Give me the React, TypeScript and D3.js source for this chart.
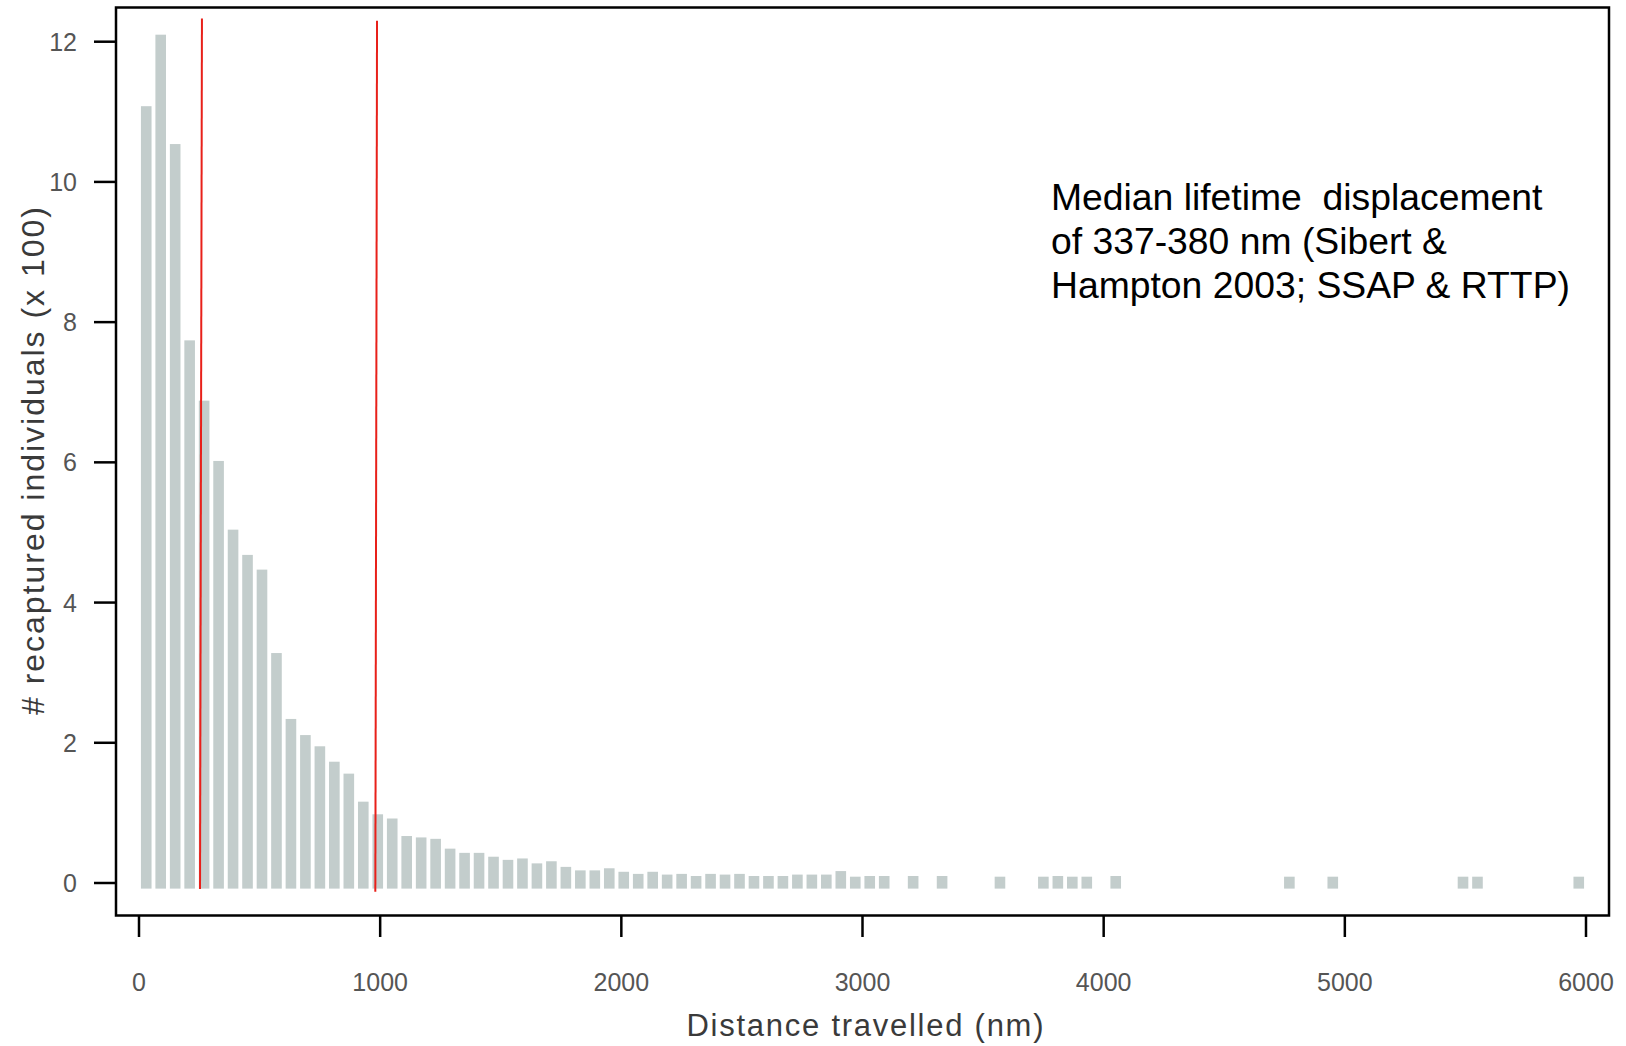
import React from 'react';
import * as d3 from 'd3';

// histogram of recapture distances, 60 nm bins (bin start in nm)
const binStart = [
  0, 60, 120, 180, 240, 300, 360, 420, 480, 540,
  600, 660, 720, 780, 840, 900, 960, 1020, 1080, 1140,
  1200, 1260, 1320, 1380, 1440, 1500, 1560, 1620, 1680, 1740,
  1800, 1860, 1920, 1980, 2040, 2100, 2160, 2220, 2280, 2340,
  2400, 2460, 2520, 2580, 2640, 2700, 2760, 2820, 2880, 2940,
  3000, 3060, 3180, 3300, 3540, 3720, 3780, 3840, 3900, 4020,
  4740, 4920, 5460, 5520, 5940,
];
// recaptured individuals (x 100)
const recaptured = [
  11.08, 12.1, 10.54, 7.74, 6.88, 6.02, 5.04, 4.68, 4.47, 3.28,
  2.34, 2.11, 1.95, 1.73, 1.56, 1.16, 0.98, 0.92, 0.67, 0.65,
  0.63, 0.49, 0.43, 0.43, 0.375, 0.33, 0.35, 0.28, 0.31, 0.23,
  0.18, 0.18, 0.21, 0.16, 0.13, 0.16, 0.12, 0.13, 0.1, 0.13,
  0.12, 0.13, 0.1, 0.1, 0.1, 0.12, 0.12, 0.12, 0.17, 0.09,
  0.1, 0.1, 0.1, 0.1, 0.09, 0.09, 0.1, 0.09, 0.09, 0.1,
  0.09, 0.09, 0.09, 0.09, 0.09,
];
const BIN = 60;

const xTicks = [0, 1000, 2000, 3000, 4000, 5000, 6000];
const yTicks = [0, 2, 4, 6, 8, 10, 12];

// hand-drawn red marker lines (nm at top / bottom, value at top / bottom)
const markerX = [[261, 253], [987, 980]];
const markerY = [[12.33, -0.086], [12.3, -0.124]];

const noteLines = [
  'Median lifetime  displacement',
  'of 337-380 nm (Sibert &',
  'Hampton 2003; SSAP & RTTP)',
];

const W = 1626;
const H = 1046;
const frame = { left: 116, top: 7.5, right: 1609, bottom: 915.5 };
const BASE = -0.08; // bars hang slightly below the zero line in the original

export default function App() {
  const x = d3.scaleLinear().domain([0, 6000]).range([139, 1586]);
  const y = d3.scaleLinear().domain([0, 12]).range([883, 41.7]);

  const bars = binStart.map((b, i) => ({ b, v: recaptured[i] }));
  const tickFont = "'Liberation Sans', Arial, sans-serif";

  return (
    <svg
      width={W}
      height={H}
      style={{ position: 'absolute', left: 0, top: 0, display: 'block', background: '#fff' }}
    >
      {bars.map((d, i) => (
        <rect
          key={i}
          x={x(d.b + 8)}
          width={x(d.b + BIN - 8) - x(d.b + 8)}
          y={y(d.v)}
          height={y(BASE) - y(d.v)}
          fill="#c3cdcc"
        />
      ))}

      {markerX.map((mx, i) => (
        <line
          key={i}
          x1={x(mx[0])}
          x2={x(mx[1])}
          y1={y(markerY[i][0])}
          y2={y(markerY[i][1])}
          stroke="#e8201a"
          strokeWidth={2}
        />
      ))}

      <rect
        x={frame.left}
        y={frame.top}
        width={frame.right - frame.left}
        height={frame.bottom - frame.top}
        fill="none"
        stroke="#000"
        strokeWidth={2.5}
      />

      {yTicks.map((t) => (
        <g key={t}>
          <line x1={94} x2={frame.left} y1={y(t)} y2={y(t)} stroke="#000" strokeWidth={2.5} />
          <text
            x={77}
            y={y(t)}
            dy="0.36em"
            textAnchor="end"
            fontFamily={tickFont}
            fontSize={25}
            fill="#555"
          >
            {t}
          </text>
        </g>
      ))}

      {xTicks.map((t) => (
        <g key={t}>
          <line x1={x(t)} x2={x(t)} y1={frame.bottom} y2={937} stroke="#000" strokeWidth={2.5} />
          <text
            x={x(t)}
            y={991}
            textAnchor="middle"
            fontFamily={tickFont}
            fontSize={25}
            fill="#555"
          >
            {t}
          </text>
        </g>
      ))}

      <text
        x={865}
        y={1036}
        textAnchor="middle"
        fontFamily={tickFont}
        fontSize={31}
        fill="#3a3a3a"
        textLength={357}
        lengthAdjust="spacing"
      >
        Distance travelled (nm)
      </text>

      <text
        transform={`translate(44, 461) rotate(-90)`}
        textAnchor="middle"
        fontFamily={tickFont}
        fontSize={32}
        fill="#3a3a3a"
        textLength={508}
        lengthAdjust="spacing"
      >
        # recaptured individuals (x 100)
      </text>

      <g fontFamily="'Liberation Sans', Arial, sans-serif" fontSize={37.3} fill="#000">
        {noteLines.map((l, i) => (
          <text key={i} x={1051} y={210 + i * 44} style={{ whiteSpace: 'pre' }}>
            {l}
          </text>
        ))}
      </g>
    </svg>
  );
}
